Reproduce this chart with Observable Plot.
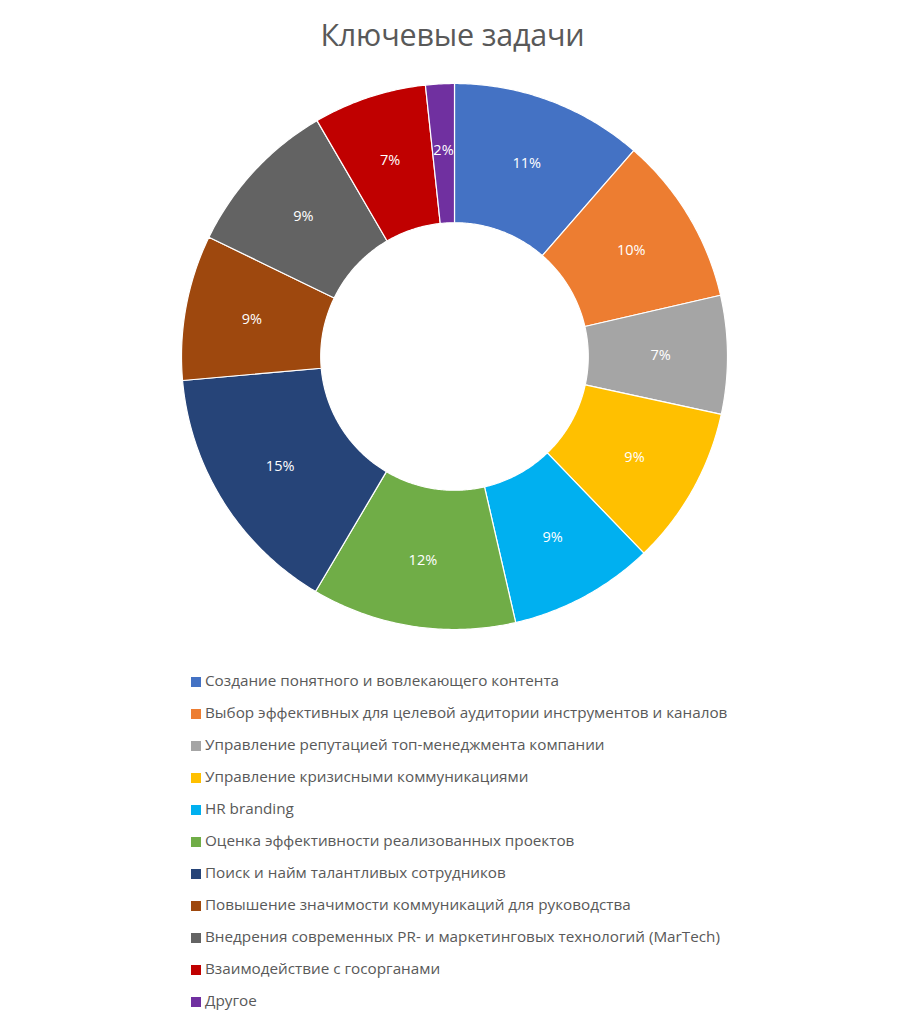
<!DOCTYPE html>
<html>
<head>
<meta charset="utf-8">
<script src="https://cdn.jsdelivr.net/npm/d3@7"></script>
<script src="https://cdn.jsdelivr.net/npm/@observablehq/plot@0.6"></script>
<style>
  html, body { margin: 0; padding: 0; background: #fff; font-family: "Open Sans", sans-serif; }
  #wrap { width: 905px; height: 1024px; }
  h1 { margin: 0; padding-top: 14px; height: 56px; box-sizing: border-box; text-align: center;
       font-weight: 400; font-size: 30.5px; line-height: 40px; color: #595959; letter-spacing: -0.2px; }
  #chart { height: 580px; }
  #chart svg { display: block; }
  #legend { padding-top: 33px; padding-left: 191px; }
  .item { height: 32px; line-height: 22px; font-size: 15.25px; color: #595959; white-space: nowrap; }
  .sw { display: inline-block; width: 10px; height: 10px; margin-right: 4px; vertical-align: -0.5px; }
</style>
</head>
<body>
<div id="wrap">
  <h1>Ключевые задачи</h1>
  <div id="chart"></div>
  <div id="legend"></div>
</div>
<script>
const categories = [
  "Создание понятного и вовлекающего контента",
  "Выбор эффективных для целевой аудитории инструментов и каналов",
  "Управление репутацией топ-менеджмента компании",
  "Управление кризисными коммуникациями",
  "HR branding",
  "Оценка эффективности реализованных проектов",
  "Поиск и найм талантливых сотрудников",
  "Повышение значимости коммуникаций для руководства",
  "Внедрения современных PR- и маркетинговых технологий (MarTech)",
  "Взаимодействие с госорганами",
  "Другое"
];
const shares = [11.4, 10.0, 7.0, 9.4, 8.6, 12.1, 15.1, 8.6, 9.4, 6.7, 1.7];
const colors = ["#4472C4", "#ED7D31", "#A5A5A5", "#FFC000", "#00B0F0", "#70AD47",
                "#264478", "#9E480E", "#636363", "#C00000", "#7030A0"];

const innerR = 0.49, outerR = 1, labelR = 0.755;
const total = d3.sum(shares);
const pie = d3.pie().sort(null).value(d => d)(shares);

const verts = [];
pie.forEach((p, i) => {
  const n = Math.max(8, Math.ceil((p.endAngle - p.startAngle) / 0.01));
  for (let k = 0; k <= n; k++) {
    const a = p.startAngle + (p.endAngle - p.startAngle) * k / n;
    verts.push({name: categories[i], x: outerR * Math.sin(a), y: outerR * Math.cos(a)});
  }
  for (let k = n; k >= 0; k--) {
    const a = p.startAngle + (p.endAngle - p.startAngle) * k / n;
    verts.push({name: categories[i], x: innerR * Math.sin(a), y: innerR * Math.cos(a)});
  }
  const s = p.startAngle;
  verts.push({name: categories[i], x: outerR * Math.sin(s), y: outerR * Math.cos(s)});
});

const labels = pie.map((p, i) => {
  const a = (p.startAngle + p.endAngle) / 2;
  return {x: labelR * Math.sin(a), y: labelR * Math.cos(a),
          text: Math.round(shares[i] / total * 100) + "%"};
});

const W = 905, H = 580, R = 273, cx = 454, cy = 300;
const chart = Plot.plot({
  width: W, height: H,
  margin: 0,
  x: {domain: [-cx / R, (W - cx) / R], axis: null},
  y: {domain: [-(H - cy) / R, cy / R], axis: null},
  color: {domain: categories, range: colors},
  style: {fontFamily: "Open Sans, sans-serif", background: "white"},
  marks: [
    Plot.line(verts, {x: "x", y: "y", z: "name", fill: "name", stroke: "white", strokeWidth: 1.2}),
    Plot.text(labels, {x: "x", y: "y", text: "text", fill: "white", fontSize: 14.5})
  ]
});
document.getElementById("chart").appendChild(chart);

const legend = document.getElementById("legend");
categories.forEach((c, i) => {
  const div = document.createElement("div");
  div.className = "item";
  const sw = document.createElement("span");
  sw.className = "sw";
  sw.style.background = colors[i];
  div.appendChild(sw);
  div.appendChild(document.createTextNode(c));
  legend.appendChild(div);
});
</script>
</body>
</html>
